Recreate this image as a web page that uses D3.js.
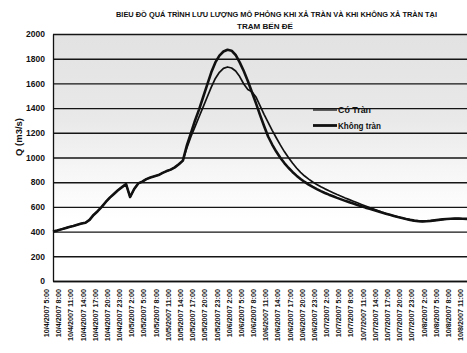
<!DOCTYPE html>
<html>
<head>
<meta charset="utf-8">
<script src="https://cdn.jsdelivr.net/npm/d3@7"></script>
<style>
  html, body { margin: 0; padding: 0; background: #fff; }
  svg { display: block; }
  text { font-family: "Liberation Sans", Arial, sans-serif; fill: #111; }
</style>
</head>
<body>
<svg id="chart" width="467" height="353"></svg>
<script>
// Chart title (two lines)
const titleLines = [
  "BIỂU ĐỒ QUÁ TRÌNH LƯU LƯỢNG MÔ PHỎNG KHI XẢ TRÀN VÀ KHI KHÔNG XẢ TRÀN TẠI",
  "TRẠM BẾN ĐẾ"
];
const yTitle = "Q (m3/s)";
const seriesNames = ["Có Tràn", "Không tràn"];

// Discharge axis ticks
const yTicks = [0, 200, 400, 600, 800, 1000, 1200, 1400, 1600, 1800, 2000];

// Hourly series start at 10/4/2007 5:00; one label every 3 hours
const xTickLabels = [
  "10/4/2007 5:00", "10/4/2007 8:00", "10/4/2007 11:00", "10/4/2007 14:00", "10/4/2007 17:00",
  "10/4/2007 20:00", "10/4/2007 23:00", "10/5/2007 2:00", "10/5/2007 5:00", "10/5/2007 8:00",
  "10/5/2007 11:00", "10/5/2007 14:00", "10/5/2007 17:00", "10/5/2007 20:00", "10/5/2007 23:00",
  "10/6/2007 2:00", "10/6/2007 5:00", "10/6/2007 8:00", "10/6/2007 11:00", "10/6/2007 14:00",
  "10/6/2007 17:00", "10/6/2007 20:00", "10/6/2007 23:00", "10/7/2007 2:00", "10/7/2007 5:00",
  "10/7/2007 8:00", "10/7/2007 11:00", "10/7/2007 14:00", "10/7/2007 17:00", "10/7/2007 20:00",
  "10/7/2007 23:00", "10/8/2007 2:00", "10/8/2007 5:00", "10/8/2007 8:00", "10/8/2007 11:00"
];
const labelStep = 3;

// Hourly discharge with spillway release (m3/s)
const coTran = [
  400, 408, 418, 428, 438, 445, 455, 465, 472, 495,
  535, 565, 600, 640, 675, 705, 735, 760, 785, 680,
  745, 790, 805, 825, 838, 848, 858, 875, 890, 902,
  920, 945, 975, 1080, 1170, 1250, 1330, 1410, 1490, 1570,
  1640, 1690, 1722, 1733, 1725, 1700, 1655, 1595, 1550, 1532,
  1490, 1420, 1350, 1285, 1220, 1160, 1102, 1048, 1000, 955,
  915, 880, 850, 825, 802, 782, 763, 746, 730, 715,
  700, 686, 672, 659, 646, 633, 620, 607, 594, 582,
  570, 558, 547, 536, 527, 518, 510, 502, 495, 489,
  485, 483, 484, 487, 491, 495, 499, 502, 504, 505,
  505, 504, 503
];

// Hourly discharge without spillway release (m3/s)
const khongTran = [
  400, 408, 418, 428, 438, 445, 455, 465, 472, 495,
  535, 565, 600, 640, 675, 705, 735, 760, 785, 680,
  745, 790, 805, 825, 838, 848, 858, 875, 890, 902,
  920, 945, 975, 1100, 1200, 1300, 1390, 1490, 1590, 1690,
  1770, 1825, 1858, 1872, 1865, 1830, 1770, 1700, 1620, 1530,
  1440, 1345, 1255, 1170, 1105, 1048, 998, 955, 917, 883,
  853, 826, 802, 781, 762, 744, 728, 713, 699, 686,
  673, 661, 649, 638, 627, 616, 605, 594, 584, 574,
  564, 554, 545, 536, 527, 518, 510, 502, 495, 489,
  485, 483, 484, 487, 491, 495, 499, 502, 504, 505,
  505, 504, 503
];

const svg = d3.select("#chart");
const plot = { left: 53, right: 467, top: 34, bottom: 281 };

const x = d3.scaleLinear().domain([0, coTran.length - 1]).range([plot.left, plot.right]);
const y = d3.scaleLinear().domain([0, 2000]).range([plot.bottom, plot.top]);

// Plot background: light grey fading to white towards the bottom
const defs = svg.append("defs");
const grad = defs.append("linearGradient")
  .attr("id", "bg").attr("x1", 0).attr("y1", 0).attr("x2", 0).attr("y2", 1);
grad.append("stop").attr("offset", "0%").attr("stop-color", "#e2e2e2");
grad.append("stop").attr("offset", "35%").attr("stop-color", "#e9e9e9");
grad.append("stop").attr("offset", "55%").attr("stop-color", "#f6f6f6");
grad.append("stop").attr("offset", "75%").attr("stop-color", "#ffffff");

svg.append("rect")
  .attr("x", plot.left).attr("y", plot.top)
  .attr("width", plot.right - plot.left).attr("height", plot.bottom - plot.top)
  .attr("fill", "url(#bg)");

// Horizontal gridlines
const grid = svg.append("g")
  .attr("transform", `translate(${plot.left},0)`)
  .call(d3.axisLeft(y).tickValues(yTicks).tickSize(-(plot.right - plot.left)).tickFormat(""));
grid.select(".domain").remove();
grid.selectAll("line").attr("stroke", "#151515").attr("stroke-width", 1.4);

// Y axis labels
const yAxis = svg.append("g")
  .attr("transform", `translate(${plot.left},0)`)
  .call(d3.axisLeft(y).tickValues(yTicks).tickFormat(d3.format("d")).tickSize(0).tickPadding(8));
yAxis.select(".domain").attr("stroke", "#111").attr("stroke-width", 1.3);
yAxis.selectAll("text")
  .attr("font-size", 8.5).attr("font-weight", "bold")
  .style("font-family", "'Liberation Sans',Arial,sans-serif");

// X axis with rotated date labels
const xAxis = svg.append("g")
  .attr("transform", `translate(0,${plot.bottom})`)
  .call(d3.axisBottom(x)
    .tickValues(d3.range(0, coTran.length, labelStep))
    .tickFormat((d, i) => xTickLabels[i])
    .tickSize(0));
xAxis.select(".domain").attr("stroke", "#111").attr("stroke-width", 1.3);
xAxis.selectAll("text")
  .attr("x", 0).attr("y", 0).attr("dy", "0.35em")
  .attr("text-anchor", "end")
  .attr("transform", "translate(-7,8) rotate(-90)")
  .attr("font-size", 7.2).attr("font-weight", "bold")
  .style("font-family", "'Liberation Sans',Arial,sans-serif");

// Series lines
const line = d3.line().x((d, i) => x(i)).y(d => y(d));
svg.append("path").datum(coTran)
  .attr("fill", "none").attr("stroke", "#111").attr("stroke-width", 1.7)
  .attr("stroke-linejoin", "round").attr("d", line);
svg.append("path").datum(khongTran)
  .attr("fill", "none").attr("stroke", "#111").attr("stroke-width", 2.6)
  .attr("stroke-linejoin", "round").attr("d", line);

// Legend
const legend = svg.append("g").attr("transform", "translate(313,110)");
const widths = [1.3, 2.8];
const legendTextWidths = [33, 43];
seriesNames.forEach((name, i) => {
  const g = legend.append("g").attr("transform", `translate(0,${i * 15.5})`);
  g.append("line").attr("x1", 0).attr("x2", 24).attr("y1", 0).attr("y2", 0)
    .attr("stroke", "#111").attr("stroke-width", widths[i]);
  g.append("text").attr("x", 25).attr("y", 0).attr("dy", "0.35em")
    .attr("font-size", 9.5).attr("font-weight", "bold")
    .attr("textLength", legendTextWidths[i]).attr("lengthAdjust", "spacingAndGlyphs")
    .text(name);
});

// Y axis title
svg.append("text")
  .attr("transform", "translate(19,137) rotate(-90)")
  .attr("text-anchor", "middle").attr("dy", "0.35em")
  .attr("font-size", 9.5).attr("font-weight", "bold")
  .text(yTitle);

// Title
svg.append("text")
  .attr("x", 276.5).attr("y", 17).attr("text-anchor", "middle")
  .attr("font-size", 7.4).attr("font-weight", "bold")
  .attr("textLength", 321).attr("lengthAdjust", "spacingAndGlyphs")
  .text(titleLines[0]);
svg.append("text")
  .attr("x", 265).attr("y", 28.5).attr("text-anchor", "middle")
  .attr("font-size", 8).attr("font-weight", "bold")
  .attr("textLength", 56).attr("lengthAdjust", "spacingAndGlyphs")
  .text(titleLines[1]);
</script>
</body>
</html>
